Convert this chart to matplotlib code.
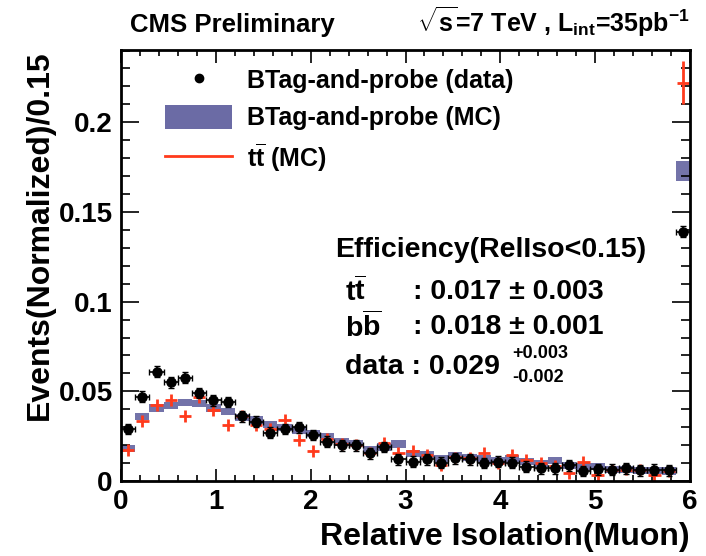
import numpy as np
import matplotlib.pyplot as plt
from matplotlib.lines import Line2D
from matplotlib.patches import Patch

#Font setup (Helvetica-like bold everywhere)
plt.rcParams['font.family'] = ['Liberation Sans', 'DejaVu Sans']
plt.rcParams['font.weight'] = 'bold'
plt.rcParams['mathtext.fontset'] = 'custom'
plt.rcParams['mathtext.rm'] = 'Liberation Sans:bold'
plt.rcParams['mathtext.it'] = 'Liberation Sans:bold'
plt.rcParams['mathtext.bf'] = 'Liberation Sans:bold'
plt.rcParams['mathtext.sf'] = 'Liberation Sans:bold'

#Binning: 40 bins of width 0.15 from 0 to 6
bin_width = 0.15
bin_centers = np.arange(40) * bin_width + bin_width / 2

#BTag-and-probe data
data_vals = [0.029, 0.047, 0.061, 0.055, 0.0575, 0.049, 0.045, 0.044, 0.036, 0.033,
             0.027, 0.029, 0.030, 0.0257, 0.022, 0.020, 0.020, 0.0154, 0.019, 0.012,
             0.0107, 0.012, 0.0101, 0.0126, 0.012, 0.0100, 0.0107, 0.0101, 0.0079, 0.007,
             0.007, 0.0088, 0.0056, 0.0066, 0.0064, 0.007, 0.006, 0.0064, 0.006, 0.139]
data_err = [0.003] * 39 + [0.003]

#BTag-and-probe MC
mc_vals = [0.018, 0.036, 0.0407, 0.042, 0.0438, 0.043, 0.0407, 0.0388, 0.0354, 0.034,
           0.0313, 0.030, 0.0283, 0.0266, 0.0247, 0.0219, 0.021, 0.0176, 0.019, 0.0206,
           0.0154, 0.015, 0.0126, 0.0144, 0.0131, 0.0123, 0.0116, 0.0126, 0.0107, 0.0098,
           0.0116, 0.0088, 0.0083, 0.0079, 0.0064, 0.0064, 0.006, 0.006, 0.0056, 0.173]
mc_err = [0.002] * 39 + [0.0055]

#ttbar MC
tt_vals = [0.0172, 0.0335, 0.0425, 0.0453, 0.0363, 0.0468, 0.0397, 0.0313, 0.0363, 0.0313,
           0.0289, 0.034, 0.0228, 0.0169, 0.0233, 0.0206, 0.020, 0.0157, 0.021, 0.0154,
           0.0169, 0.0144, 0.0088, 0.0131, 0.0126, 0.0154, 0.0098, 0.0144, 0.0116, 0.0098,
           0.0083, 0.0042, 0.0107, 0.0032, 0.0064, 0.0064, 0.0064, 0.0032, 0.0056, 0.222]
tt_err = [0.0033] * 39 + [0.012]

mc_color = '#6b6ba5'
tt_color = '#ff3a1c'

fig = plt.figure(figsize=(7.06, 5.56), dpi=100)
ax = fig.add_axes([0.1714, 0.1349, 0.806, 0.7752])

#MC band drawn as boxes of +-error
mc = np.array(mc_vals)
mce = np.array(mc_err)
ax.bar(bin_centers, 2 * mce, bottom=mc - mce, width=bin_width, color=mc_color,
       edgecolor='none', alpha=0.95, zorder=1)

#ttbar crosses
ax.errorbar(bin_centers, tt_vals, xerr=0.065, yerr=tt_err, fmt='none',
            ecolor=tt_color, elinewidth=2, zorder=2)

#data points
ax.errorbar(bin_centers, data_vals, xerr=bin_width / 2, yerr=data_err, fmt='o',
            color='black', markersize=6.5, elinewidth=1.2, capsize=2, zorder=3)

ax.set_xlim(0, 6)
ax.set_ylim(0, 0.2403)
ax.set_xticks([0, 1, 2, 3, 4, 5, 6])
ax.set_xticks(np.arange(0, 6.01, 0.2), minor=True)
ax.set_yticks([0, 0.05, 0.1, 0.15, 0.2])
ax.set_yticklabels(['0', '0.05', '0.1', '0.15', '0.2'])
ax.set_yticks(np.arange(0, 0.2401, 0.01), minor=True)
ax.tick_params(which='both', direction='in', top=True, right=True, width=1.2,
               labelsize=20, pad=6)
ax.tick_params(axis='x', which='major', length=9)
ax.tick_params(axis='x', which='minor', length=4.5)
ax.tick_params(axis='y', which='major', length=13)
ax.tick_params(axis='y', which='minor', length=6.5)
for s in ax.spines.values():
    s.set_linewidth(2)

ax.set_xlabel('Relative Isolation(Muon)', fontsize=23, fontweight='bold')
ax.xaxis.set_label_coords(1.0, -0.13)
ax.xaxis.label.set_horizontalalignment('right')
ax.xaxis.label.set_verticalalignment('center')
ax.set_ylabel('Events(Normalized)/0.15', fontsize=23, fontweight='bold')
ax.yaxis.set_label_coords(-0.142, 1.0)
ax.yaxis.label.set_verticalalignment('center')
ax.yaxis.label.set_horizontalalignment('right')

#Legend
handles = [Line2D([], [], marker='o', color='black', linestyle='none', markersize=6),
           Patch(facecolor=mc_color, edgecolor='none'),
           Line2D([], [], color=tt_color, lw=2)]
labels = ['BTag-and-probe (data)', 'BTag-and-probe (MC)', r't$\overline{t}$ (MC)']
ax.legend(handles, labels, loc='upper left', bbox_to_anchor=(0.0773, 0.9594),
          frameon=False, borderpad=0, borderaxespad=0, fontsize=18,
          handlelength=2.7, handleheight=1.15, handletextpad=0.6, labelspacing=0.45)

#Header texts
fig.text(130 / 706, 1 - 25 / 556, 'CMS Preliminary', fontsize=18.5, va='center', ha='left')
fig.text(690 / 706, 1 - 22 / 556, r'$\sqrt{s}$=7 TeV , L$_{int}$=35pb$^{-1}$',
         fontsize=18, va='center', ha='right')

#Efficiency box
fig.text(335 / 706, 1 - 250 / 556, 'Efficiency(RelIso<0.15)', fontsize=20.5, va='center')
fig.text(345 / 706, 1 - 292 / 556, r't$\overline{t}$', fontsize=20.5, va='center')
fig.text(413 / 706, 1 - 292 / 556, ': 0.017 ± 0.003', fontsize=20.5, va='center')
fig.text(345 / 706, 1 - 327 / 556, r'b$\overline{b}$', fontsize=20.5, va='center')
fig.text(413 / 706, 1 - 327 / 556, ': 0.018 ± 0.001', fontsize=20.5, va='center')
fig.text(345 / 706, 1 - 367 / 556, 'data : 0.029', fontsize=20.5, va='center')
fig.text(512 / 706, 1 - 354 / 556, '+0.003', fontsize=13, va='center')
fig.text(512 / 706, 1 - 378 / 556, '-0.002', fontsize=13, va='center')

plt.savefig('out.png', dpi=100)
